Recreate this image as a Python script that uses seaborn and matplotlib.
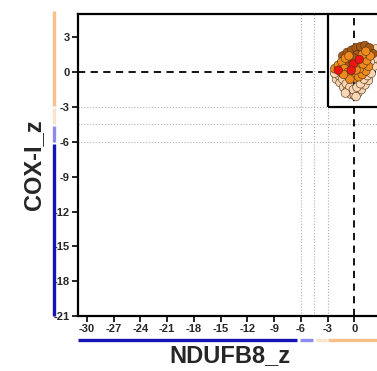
import numpy as np
import pandas as pd
import seaborn as sns
import matplotlib.pyplot as plt
import matplotlib.transforms as mtransforms
from matplotlib.patches import Rectangle
from matplotlib import font_manager

peach_x = [-2.0, -1.6, -1.2, -0.8, -0.4, 0.0, 0.4, 0.8, 1.2, 1.6, -1.7, -1.3, -0.9,
           -0.5, -0.1, 0.3, 0.7, 1.1, 1.5, -1.0, 0.2, 2.0, 2.3, 2.2, 1.9, 2.4, -2.2, 1.8]
peach_y = [-0.6, -0.9, -1.3, -1.6, -1.9, -2.0, -1.8, -1.5, -1.1, -0.7, -0.3, -0.6, -1.0,
           -1.3, -1.5, -1.3, -1.0, -0.6, -0.3, -1.8, -2.1, 1.8, 1.2, 0.5, -0.1, 2.0, -0.1, 0.9]
dark_x = [-1.3, -0.8, -0.3, 0.2, 0.7, 1.2, 1.7, -0.5, 0.3, 0.8, -1.0, 1.5, 2.1, 0.0]
dark_y = [1.4, 1.7, 1.9, 2.1, 2.2, 2.3, 2.1, 0.9, 1.5, 1.0, 0.6, 1.6, 1.6, 1.2]
orange_x = [-2.2, -1.8, -1.4, -1.0, -0.6, -1.5, -1.1, -0.7, -0.3, 0.1, 0.5, 0.9,
            1.3, 1.6, 0.6, 1.0, 1.4, 0.2, -0.5, -1.2, 1.8, 0.9, 1.3]
orange_y = [0.3, 0.6, 0.9, 1.2, 1.4, 0.0, 0.3, 0.0, -0.3, -0.5, -0.4, -0.2,
            0.1, 0.5, 0.3, 0.7, 1.0, 0.2, -0.6, -0.2, 1.4, 1.5, 1.8]
red_x = [-1.8, -0.1, 0.56, -0.34]
red_y = [0.17, 0.7, 1.1, 0.17]

x_ticks = list(range(-30, 1, 3))
y_ticks = list(range(-21, 4, 3))
x_lim = (-31, 3.1)
y_lim = (-21, 5)
cut_lines = [-6, -4.5, -3]

groups = ["peach"] * len(peach_x) + ["dark"] * len(dark_x) + ["orange"] * len(orange_x) + ["red"] * len(red_x)
df = pd.DataFrame({
    "NDUFB8_z": peach_x + dark_x + orange_x + red_x,
    "COX-I_z": peach_y + dark_y + orange_y + red_y,
    "group": groups,
})
palette = {"peach": "#F9D6B4", "dark": "#A85A12", "orange": "#EF8A1C", "red": "#F01414"}

sns.set_style("white")
plt.rcParams["font.family"] = ["Liberation Sans", "DejaVu Sans"]
plt.rcParams["axes.unicode_minus"] = False

names = {f.name for f in font_manager.fontManager.ttflist}
tick_family = "Liberation Sans Narrow" if "Liberation Sans Narrow" in names else "Liberation Sans"

fig = plt.figure(figsize=(3.77, 3.71), dpi=100)
ax = fig.add_axes([0.207, 0.148, 0.806, 0.814])

for xv in cut_lines:
    ax.axvline(xv, color="#B0B0B0", lw=0.8, ls=":", zorder=1)
for yv in cut_lines:
    ax.axhline(yv, color="#B0B0B0", lw=0.8, ls=":", zorder=1)
ax.axvline(0, color="black", lw=1.3, ls=(0, (4, 3)), zorder=1)
ax.axhline(0, color="black", lw=1.3, ls=(0, (4, 3)), zorder=1)
ax.add_patch(Rectangle((-3, -3), 20, 20, fill=False, ec="black", lw=1.6, zorder=2))

sns.scatterplot(data=df, x="NDUFB8_z", y="COX-I_z", hue="group", palette=palette,
                s=38, edgecolor="#4A2E14", linewidth=0.4, legend=False, ax=ax, zorder=3)

ax.set_xlim(*x_lim)
ax.set_ylim(*y_lim)
ax.set_xticks(x_ticks)
ax.set_yticks(y_ticks)
ax.tick_params(axis="both", direction="out", length=4, width=1.2, color="black",
               labelsize=8, pad=2, left=True, bottom=True)
for lab in ax.get_xticklabels() + ax.get_yticklabels():
    lab.set_fontweight("bold")
    lab.set_family(tick_family)
for side in ["left", "bottom", "top", "right"]:
    ax.spines[side].set_color("black")
    ax.spines[side].set_linewidth(1.6)

ax.set_xlabel("NDUFB8_z", fontsize=17, fontweight="bold", labelpad=7)
ax.set_ylabel("COX-I_z", fontsize=17, fontweight="bold", labelpad=6)

# coloured category bars outside the axes
ty = mtransforms.blended_transform_factory(ax.transAxes, ax.transData)
tx = mtransforms.blended_transform_factory(ax.transData, ax.transAxes)
bar_col = {"orange": "#F9C08A", "pale": "#FBE3CC", "lav": "#8C8CF0", "blue": "#1414B4"}
y_segments = [(5.25, -2.9, "orange"), (-3.1, -4.5, "pale"), (-4.6, -6.0, "lav"), (-6.2, -21.0, "blue")]
for y0, y1, c in y_segments:
    ax.plot([-0.079, -0.079], [y0, y1], color=bar_col[c], lw=2.4, transform=ty,
            clip_on=False, solid_capstyle="butt")
x_segments = [(-31.0, -6.4, "blue"), (-6.1, -4.6, "lav"), (-4.3, -3.1, "pale"), (-2.9, 6.0, "orange")]
for x0, x1, c in x_segments:
    ax.plot([x0, x1], [-0.079, -0.079], color=bar_col[c], lw=2.4, transform=tx,
            clip_on=False, solid_capstyle="butt")

fig.savefig("out.png", dpi=100)
